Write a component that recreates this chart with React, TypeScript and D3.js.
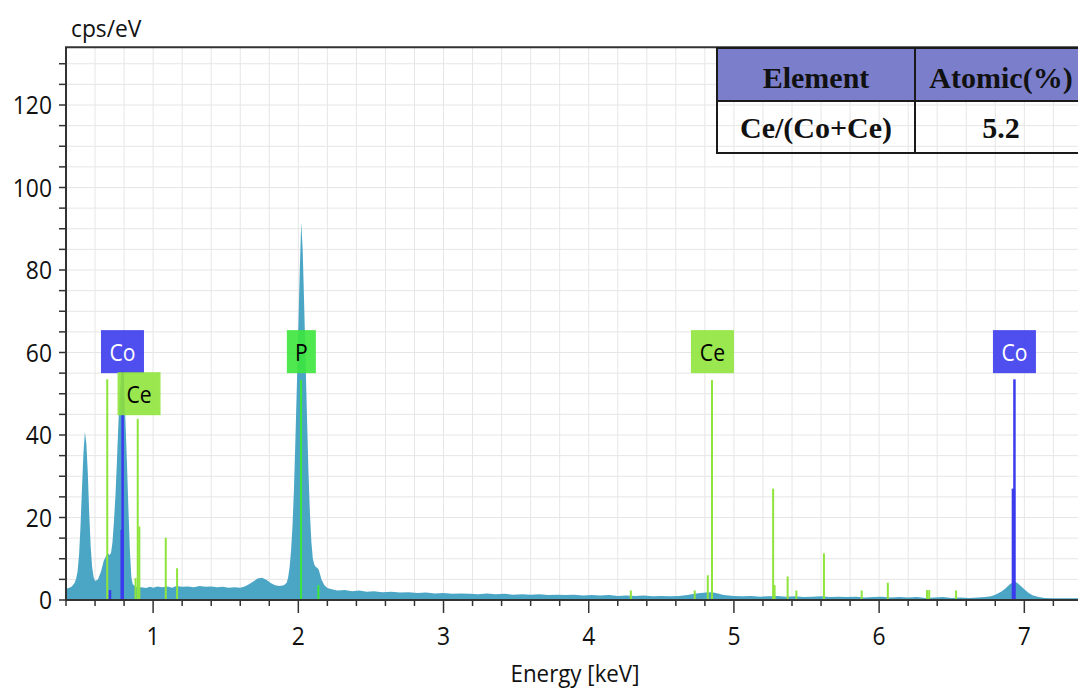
import React from 'react';
import * as d3 from 'd3';

// EDS spectrum: energy (keV) and intensity (cps/eV)
const specE = [
  0.40, 0.42, 0.44, 0.46, 0.47, 0.48, 0.49, 0.50, 0.51, 0.52, 0.53, 0.54, 0.55, 0.56, 0.57, 0.58, 0.59, 0.60,
  0.62, 0.64, 0.66, 0.68, 0.69, 0.70, 0.71, 0.72, 0.73, 0.74, 0.75, 0.76, 0.77, 0.78, 0.79, 0.80, 0.81, 0.82,
  0.83, 0.84, 0.85, 0.86, 0.88, 0.90, 0.92, 0.95, 0.98, 1.00, 1.03, 1.06, 1.10, 1.13, 1.16, 1.20, 1.24, 1.28,
  1.32, 1.36, 1.40, 1.44, 1.48, 1.52, 1.56, 1.60, 1.63, 1.66, 1.69, 1.72, 1.75, 1.78, 1.81, 1.84, 1.87, 1.90,
  1.92, 1.93, 1.94, 1.95, 1.96, 1.97, 1.98, 1.99, 2.00, 2.01, 2.02, 2.03, 2.04, 2.05, 2.06, 2.07, 2.08, 2.09,
  2.10, 2.11, 2.12, 2.13, 2.14, 2.15, 2.16, 2.18, 2.20, 2.23, 2.27, 2.32, 2.37, 2.42, 2.47, 2.52, 2.58, 2.64,
  2.70, 2.76, 2.82, 2.88, 2.94, 3.00, 3.06, 3.12, 3.18, 3.24, 3.30, 3.36, 3.42, 3.48, 3.54, 3.60, 3.66, 3.72,
  3.78, 3.84, 3.90, 3.96, 4.02, 4.08, 4.14, 4.20, 4.26, 4.32, 4.38, 4.44, 4.50, 4.56, 4.62, 4.68, 4.73, 4.77,
  4.81, 4.85, 4.89, 4.93, 5.00, 5.06, 5.12, 5.18, 5.24, 5.30, 5.36, 5.42, 5.48, 5.54, 5.60, 5.66, 5.72, 5.78,
  5.84, 5.90, 5.96, 6.02, 6.08, 6.14, 6.20, 6.26, 6.32, 6.38, 6.44, 6.50, 6.56, 6.62, 6.68, 6.73, 6.77, 6.80,
  6.84, 6.87, 6.90, 6.93, 6.95, 6.97, 7.00, 7.03, 7.06, 7.10, 7.14, 7.20, 7.28, 7.40,
];
const specCps = [
  2.7, 2.9, 3.3, 4.2, 5.2, 7.0, 11, 18, 27, 35.5, 40.7, 38, 31, 21, 13, 8.0, 5.6, 4.6,
  5.0, 6.8, 9.5, 11, 11.3, 10.9, 11.4, 14, 19, 25, 33, 42, 50, 54.5, 55.5, 51, 43, 33,
  22, 12, 5.5, 3.8, 3.2, 3.0, 3.1, 2.9, 3.2, 3.0, 3.3, 3.1, 3.3, 3.0, 3.4, 3.2, 3.3, 3.1,
  3.4, 3.2, 3.3, 3.1, 3.2, 3.0, 3.1, 3.0, 3.3, 3.8, 4.5, 5.2, 5.4, 4.9, 4.1, 3.6, 3.4, 3.6,
  4.2, 5.5, 8.0, 12, 18, 27, 39, 52, 66, 80, 91.5, 85, 72, 58, 44, 31, 21, 14,
  10, 8.6, 8.0, 7.8, 7.4, 6.2, 4.9, 3.6, 2.9, 2.6, 2.3, 2.4, 2.1, 2.3, 2.0, 2.1, 1.9, 2.0,
  1.8, 1.9, 1.7, 1.8, 1.6, 1.7, 1.5, 1.6, 1.5, 1.4, 1.6, 1.4, 1.5, 1.3, 1.4, 1.3, 1.4, 1.2,
  1.3, 1.2, 1.3, 1.1, 1.2, 1.1, 1.2, 1.0, 1.1, 1.0, 1.1, 0.9, 1.0, 0.9, 1.0, 1.2, 1.5, 1.7,
  1.8, 1.9, 1.6, 1.2, 1.0, 0.9, 1.0, 0.8, 0.9, 1.0, 0.8, 0.9, 0.7, 0.8, 0.9, 0.7, 0.8, 0.7,
  0.8, 0.6, 0.7, 0.8, 0.6, 0.7, 0.6, 0.7, 0.5, 0.6, 0.7, 0.5, 0.6, 0.5, 0.6, 0.7, 0.9, 1.3,
  2.0, 2.8, 3.8, 4.4, 4.2, 3.6, 2.6, 1.7, 1.1, 0.7, 0.5, 0.45, 0.4, 0.4,
];

// Element marker lines (keV, height in cps/eV)
const ceLineE = [0.684, 0.879, 0.894, 0.905, 1.087, 1.165, 4.29, 4.73, 4.82, 4.849, 5.27, 5.28, 5.37, 5.43, 5.62, 5.88, 6.06, 6.33, 6.345, 6.53];
const ceLineH = [53.5, 5.3, 43.9, 17.8, 15.1, 7.7, 2.3, 2.3, 6.0, 53.3, 27, 3.6, 5.7, 2.3, 11.3, 2.3, 4.2, 2.4, 2.4, 2.3];
const pLineE = [2.019, 2.138];
const pLineH = [53.3, 3.6];
const coLineE = [0.703, 0.787, 0.790, 6.925, 6.932];
const coLineH = [2.4, 17, 55.5, 27, 53.5];

// Peak labels
const peakNames = ['Co', 'P', 'Ce', 'Co', 'Ce'];
const peakE = [0.789, 2.021, 4.852, 6.932, 0.903];
const peakBase = [55, 55, 55, 55, 44.8];

// Axis ticks
const xMajor = [1, 2, 3, 4, 5, 6, 7];
const yMajor = [0, 20, 40, 60, 80, 100, 120];

// Composition table
const tableHeader = ['Element', 'Atomic(%)'];
const tableRow = ['Ce/(Co+Ce)', '5.2'];

const FILL = '#4ba6c6';
const CE_GREEN = '#8fe43c';
const P_GREEN = '#3ce63c';
const CO_BLUE = '#3c3cee';
const AXIS = '#333';
const GRID = '#e6e6e6';
const SANS = '"Open Sans", sans-serif';
const SERIF = '"Liberation Serif", "Times New Roman", serif';

const labelColor: Record<string, { bg: string; fg: string }> = {
  Co: { bg: CO_BLUE, fg: '#ffffff' },
  Ce: { bg: CE_GREEN, fg: '#000000' },
  P: { bg: P_GREEN, fg: '#000000' },
};

// Slightly condensed text, anchored at (x, y)
function Txt(props: {
  x: number;
  y: number;
  size: number;
  sx?: number;
  anchor?: 'start' | 'middle' | 'end';
  fill?: string;
  children: React.ReactNode;
}) {
  const { x, y, size, sx = 0.88, anchor = 'start', fill = '#111', children } = props;
  return (
    <text
      transform={`translate(${x},${y}) scale(${sx},1)`}
      textAnchor={anchor}
      fontSize={size}
      fill={fill}
    >
      {children}
    </text>
  );
}

export default function App() {
  const W = 1078;
  const H = 693;
  const x = d3.scaleLinear().domain([0.4, 7.4]).range([66, 66 + 7.0 * 145.2]);
  const y = d3.scaleLinear().domain([0, 134]).range([600, 47.25]);

  const pts: [number, number][] = specE.map((e, i) => [e, specCps[i]]);
  const area = d3
    .area<[number, number]>()
    .x((d) => x(d[0]))
    .y0(y(0))
    .y1((d) => y(d[1]));

  const gridX = d3.range(2, 38).map((i) => +(i * 0.2).toFixed(2));
  const gridY = d3.range(0, 135, 5);
  const minorX = gridX.filter((v) => Math.abs(v - Math.round(v)) > 1e-6);

  const x0 = x(0.4);
  const y0 = y(0);
  const yTop = y(134);

  const lineRect = (e: number, h: number, color: string, w: number, key: string) => (
    <rect key={key} x={x(e) - w / 2} y={y(h)} width={w} height={y0 - y(h)} fill={color} />
  );

  // table geometry
  const tL = 717, tM = 915, tR = 1087, tT = 48, tMid = 101, tB = 153;

  return (
    <svg
      width={W}
      height={H}
      style={{ position: 'absolute', left: 0, top: 0, background: '#fff' }}
      fontFamily={SANS}
    >
      <defs>
        <clipPath id="plotClip">
          <rect x={x0} y={yTop} width={W - x0} height={y0 - yTop} />
        </clipPath>
      </defs>

      {/* grid */}
      <g stroke={GRID} strokeWidth={1}>
        {gridX.map((v) => (
          <line key={'gx' + v} x1={x(v)} x2={x(v)} y1={yTop} y2={y0} />
        ))}
        {gridY.map((v) => (
          <line key={'gy' + v} x1={x0} x2={W} y1={y(v)} y2={y(v)} />
        ))}
      </g>

      {/* spectrum */}
      <g clipPath="url(#plotClip)">
        <path d={area(pts) || ''} fill={FILL} />
        {ceLineE.map((e, i) => lineRect(e, ceLineH[i], CE_GREEN, 2, 'ce' + i))}
        {pLineE.map((e, i) => lineRect(e, pLineH[i], P_GREEN, 2, 'p' + i))}
        {coLineE.map((e, i) => lineRect(e, coLineH[i], CO_BLUE, i === 1 || i === 3 ? 3.5 : 2.5, 'co' + i))}
      </g>

      {/* axes */}
      <line x1={x0} x2={x0} y1={yTop} y2={y0 + 1} stroke={AXIS} strokeWidth={2} />
      <line x1={x0 - 1} x2={W} y1={y0} y2={y0} stroke={AXIS} strokeWidth={2} />
      <line x1={x0 - 1} x2={W} y1={yTop} y2={yTop} stroke={AXIS} strokeWidth={2} />

      {/* y ticks */}
      <g stroke={AXIS} strokeWidth={1.5}>
        {gridY.map((v) => (
          <line key={'yt' + v} x1={x0 - 7} x2={x0} y1={y(v)} y2={y(v)} />
        ))}
      </g>
      {yMajor.map((v) => (
        <Txt key={'yl' + v} x={52} y={y(v) + 9} size={26} anchor="end">
          {v}
        </Txt>
      ))}

      {/* x ticks */}
      <g stroke={AXIS} strokeWidth={1.5}>
        {minorX.map((v) => (
          <line key={'xm' + v} x1={x(v)} x2={x(v)} y1={y0} y2={y0 + 6} />
        ))}
        {xMajor.map((v) => (
          <line key={'xM' + v} x1={x(v)} x2={x(v)} y1={y0} y2={y0 + 13} />
        ))}
      </g>
      {xMajor.map((v) => (
        <Txt key={'xl' + v} x={x(v)} y={645} size={26} anchor="middle">
          {v}
        </Txt>
      ))}

      <Txt x={575} y={682} size={24} sx={0.93} anchor="middle">
        Energy [keV]
      </Txt>
      <Txt x={71} y={37} size={24} sx={0.95}>
        cps/eV
      </Txt>

      {/* peak labels */}
      {peakNames.map((n, i) => {
        const c = labelColor[n];
        const w = n.length > 1 ? 43 : 29;
        const h = 43;
        const cx = x(peakE[i]);
        const by = y(peakBase[i]);
        return (
          <g key={'lab' + i}>
            <rect x={cx - w / 2} y={by - h} width={w} height={h} fill={c.bg} opacity={0.9} />
            <Txt x={cx} y={by - 12} size={23} sx={0.92} anchor="middle" fill={c.fg}>
              {n}
            </Txt>
          </g>
        );
      })}

      {/* composition table */}
      <rect x={tL} y={tT} width={tR - tL} height={tMid - tT} fill="#7b7fcb" />
      <g stroke="#1a1a1a" strokeWidth={2} fill="none">
        <rect x={tL} y={tT} width={tR - tL} height={tB - tT} />
        <line x1={tL} x2={tR} y1={tMid} y2={tMid} />
        <line x1={tM} x2={tM} y1={tT} y2={tB} />
      </g>
      <g fontFamily={SERIF} fontWeight="bold" fontSize={30} fill="#111" textAnchor="middle">
        <text x={(tL + tM) / 2} y={88}>{tableHeader[0]}</text>
        <text x={(tM + tR) / 2} y={88}>{tableHeader[1]}</text>
        <text x={(tL + tM) / 2} y={138}>{tableRow[0]}</text>
        <text x={(tM + tR) / 2} y={138}>{tableRow[1]}</text>
      </g>
    </svg>
  );
}
